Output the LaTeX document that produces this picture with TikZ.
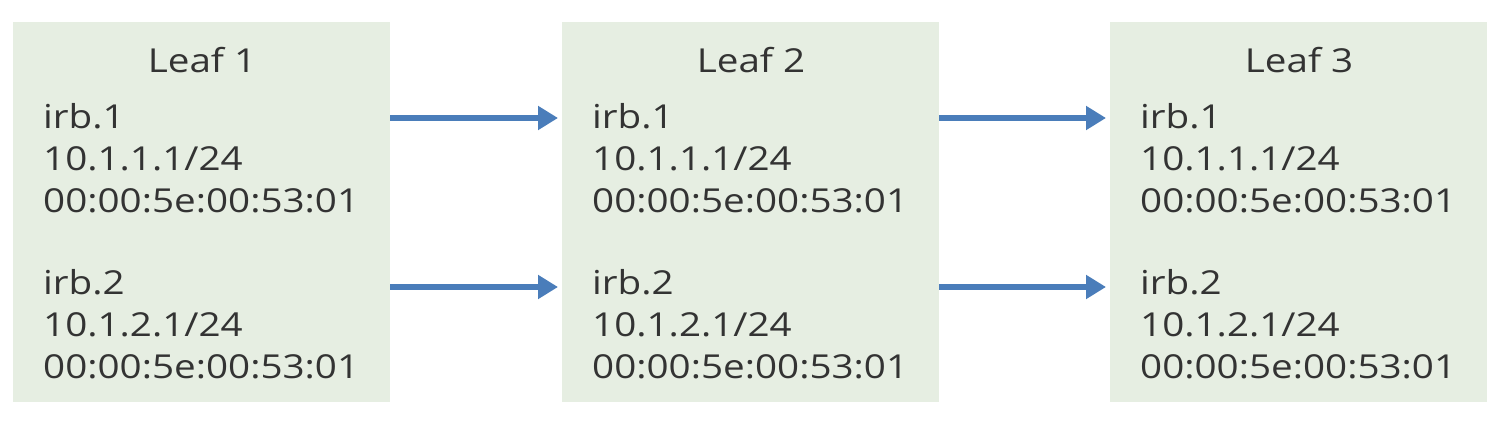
\documentclass[tikz,border=0pt]{standalone}
\usepackage{fontspec}
\setmainfont[FakeStretch=1.17]{Open Sans}
\usetikzlibrary{arrows.meta}
\definecolor{boxfill}{HTML}{E6EEE2}
\definecolor{arrowblue}{HTML}{4A7DBA}
\definecolor{txt}{HTML}{333333}
\tikzset{
  leafbox/.style={fill=boxfill, draw=none, minimum width=377pt, minimum height=380pt, inner sep=0pt, anchor=north west},
  title/.style={font=\fontsize{33}{33}\selectfont, text=txt, anchor=base, inner sep=0pt},
  info/.style={font=\fontsize{33}{42}\selectfont, text=txt, anchor=base west, inner sep=0pt, align=left},
  flow/.style={draw=arrowblue, line width=5.5pt, -{Triangle[length=20pt,width=23pt]}}
}
\begin{document}
\begin{tikzpicture}[x=1pt,y=-1pt]
\useasboundingbox (0,0) rectangle (1506,422);
\foreach \i/\x in {1/13,2/562,3/1110}{
  \node[leafbox] (L\i) at (\x,22) {};
  \node[title] (T\i) at (\x+189,73) {Leaf \i};
  \node[info] (A\i) at (\x+30,212) {irb.1\\10.1.1.1/24\\00:00:5e:00:53:01};
  \node[info] (B\i) at (\x+30,378) {irb.2\\10.1.2.1/24\\00:00:5e:00:53:01};
}
\coordinate (s1a) at (L1.east |- 0,118);
\coordinate (e2a) at (L2.west |- 0,118);
\coordinate (s1b) at (L1.east |- 0,287);
\coordinate (e2b) at (L2.west |- 0,287);
\coordinate (s2a) at (L2.east |- 0,118);
\coordinate (e3a) at (L3.west |- 0,118);
\coordinate (s2b) at (L2.east |- 0,287);
\coordinate (e3b) at (L3.west |- 0,287);
\draw[flow] (s1a) -- ([xshift=-4pt]e2a);
\draw[flow] (s1b) -- ([xshift=-4pt]e2b);
\draw[flow] (s2a) -- ([xshift=-4pt]e3a);
\draw[flow] (s2b) -- ([xshift=-4pt]e3b);
\end{tikzpicture}
\end{document}
